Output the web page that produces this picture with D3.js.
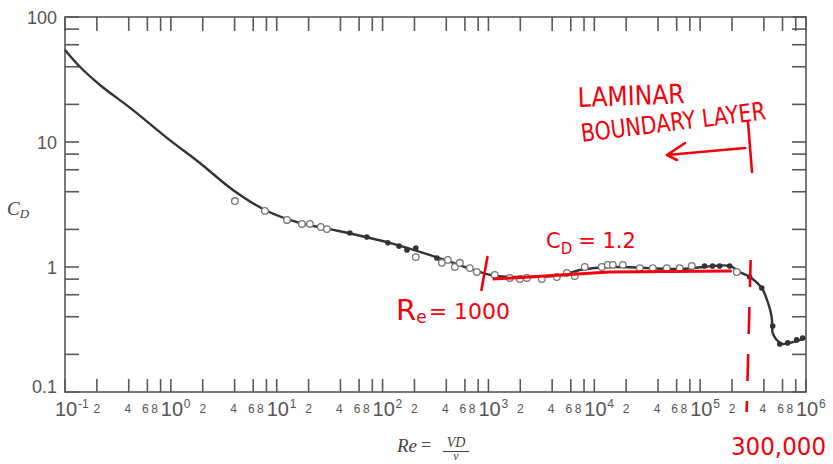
<!DOCTYPE html>
<html>
<head>
<meta charset="utf-8">
<script src="https://cdn.jsdelivr.net/npm/d3@7"></script>
<style>
  html, body { margin: 0; padding: 0; background: #fff; }
  svg { display: block; }
</style>
</head>
<body>
<svg id="chart" width="833" height="464"></svg>
<script>
// ---------------- DATA ----------------
// Smooth drag curve (Re, C_D)
const curveRe = [0.1, 0.139, 0.214, 0.439, 0.918, 1.88, 3.86, 7.74, 16.6, 31.8, 117, 387, 829, 1200, 2460, 5040, 7300, 14960, 64100, 190000, 236000, 294000, 382000, 435000, 474000, 485000, 529000, 589000, 701000, 931000];
const curveCd = [54.5, 39.8, 28.6, 18.0, 10.8, 6.79, 4.13, 2.86, 2.25, 2.01, 1.56, 1.14, 0.912, 0.847, 0.832, 0.863, 0.946, 1.0, 0.964, 1.02, 0.912, 0.832, 0.679, 0.525, 0.398, 0.296, 0.261, 0.242, 0.247, 0.265];

// Open-circle measurements
const openRe = [4.03, 7.74, 12.5, 17.3, 20.6, 26.1, 29.8, 206, 363, 414, 482, 537, 667, 776, 1148, 1592, 1981, 2306, 3194, 4426, 5500, 6540, 8130, 11770, 13400, 14960, 18600, 26900, 35700, 48400, 64100, 83300, 222000];
const openCd = [3.37, 2.81, 2.38, 2.21, 2.21, 2.09, 2.01, 1.20, 1.08, 1.14, 1.0, 1.08, 0.98, 0.912, 0.863, 0.817, 0.802, 0.817, 0.802, 0.832, 0.895, 0.847, 1.0, 1.0, 1.04, 1.04, 1.04, 0.98, 0.98, 0.98, 0.98, 1.02, 0.912];

// Filled-dot measurements
const filledRe = [49.1, 71.1, 112, 143, 170, 206, 326, 110000, 131000, 153000, 190000, 294000, 382000, 485000, 565000, 672000, 817000, 931000];
const filledCd = [1.87, 1.74, 1.56, 1.47, 1.37, 1.42, 1.18, 1.02, 1.02, 1.02, 1.02, 0.832, 0.679, 0.337, 0.242, 0.247, 0.261, 0.270];

// Red hand-drawn annotation line (C_D ~ 1.2 region)
const redLineRe = [1100, 14000, 199000];
const redLineCd = [0.80, 0.912, 0.929];
const reMarker = 1000;       // "Re = 1000" slash
const reTransition = 300000; // dashed line "300,000"

// Axis ticks
const xDecadeExps = [-1, 0, 1, 2, 3, 4, 5, 6];
const minorMultipliers = [2, 4, 6, 8];
const yDecades = [0.1, 1, 10, 100];
const yTickLabels = ["0.1", "1", "10", "100"];

// ---------------- LAYOUT ----------------
const svg = d3.select("#chart");
const L = 65, R = 806, T = 17, B = 392;
const x = d3.scaleLog().domain([0.1, 1e6]).range([L, R]);
const y = d3.scaleLog().domain([0.1, 100]).range([B, T]);

const axisColor = "#585858";
const textColor = "#555";
const red = "#f2000c";

const xTicks = [];
xDecadeExps.forEach(e => {
  xTicks.push({ v: Math.pow(10, e), major: true, e });
  if (e < 6) minorMultipliers.forEach(m => xTicks.push({ v: m * Math.pow(10, e), major: false, m }));
});
const yTicks = [];
yDecades.forEach((d, i) => {
  yTicks.push(d);
  if (i < yDecades.length - 1) minorMultipliers.forEach(m => yTicks.push(m * d));
});

const g = svg.append("g");

g.append("rect").attr("x", L).attr("y", T).attr("width", R - L).attr("height", B - T)
  .attr("fill", "none").attr("stroke", axisColor).attr("stroke-width", 1.6);

const tl = 14;
g.selectAll(".xtb").data(xTicks).join("line")
  .attr("x1", d => x(d.v)).attr("x2", d => x(d.v)).attr("y1", B).attr("y2", B - 13)
  .attr("stroke", axisColor).attr("stroke-width", 1.6);
g.selectAll(".xtt").data(xTicks).join("line")
  .attr("x1", d => x(d.v)).attr("x2", d => x(d.v)).attr("y1", T).attr("y2", T + tl)
  .attr("stroke", axisColor).attr("stroke-width", 1.6);
g.selectAll(".ytl").data(yTicks).join("line")
  .attr("x1", L).attr("x2", L + tl).attr("y1", d => y(d)).attr("y2", d => y(d))
  .attr("stroke", axisColor).attr("stroke-width", 1.6);
g.selectAll(".ytr").data(yTicks).join("line")
  .attr("x1", R).attr("x2", R - tl).attr("y1", d => y(d)).attr("y2", d => y(d))
  .attr("stroke", axisColor).attr("stroke-width", 1.6);

// x tick labels
const labelFont = "'Liberation Sans', Arial, sans-serif";
const minorShift = { 2: 0, 4: -1, 6: -2, 8: -6 };
xTicks.forEach(t => {
  const px = x(t.v);
  if (t.major) {
    g.append("text").attr("x", px - 10).attr("y", 416).attr("text-anchor", "start")
      .attr("font-family", labelFont).attr("font-size", 20).attr("fill", textColor).text("10");
    g.append("text").attr("x", px + 13).attr("y", 408).attr("text-anchor", "start")
      .attr("font-family", labelFont).attr("font-size", 12).attr("fill", textColor)
      .text(t.e < 0 ? "-" + Math.abs(t.e) : String(t.e));
  } else {
    g.append("text").attr("x", px + minorShift[t.m]).attr("y", 413).attr("text-anchor", "middle")
      .attr("font-family", labelFont).attr("font-size", 12).attr("fill", textColor).text(String(t.m));
  }
});

// y tick labels
yDecades.forEach((d, i) => {
  g.append("text").attr("x", 57).attr("y", y(d) + (i === 0 ? 1 : 6.5))
    .attr("text-anchor", "end").attr("font-family", labelFont).attr("font-size", 18)
    .attr("fill", textColor).text(yTickLabels[i]);
});

// axis titles
const serif = "'Liberation Serif', 'DejaVu Serif', serif";
const cd = g.append("text").attr("x", 7).attr("y", 215).attr("font-family", serif)
  .attr("font-style", "italic").attr("font-size", 19).attr("fill", "#444");
cd.append("tspan").text("C");
cd.append("tspan").attr("font-size", 13).attr("dy", 3).text("D");

g.append("text").attr("x", 397).attr("y", 452).attr("font-family", serif)
  .attr("font-style", "italic").attr("font-size", 19).attr("fill", "#444").text("Re");
g.append("text").attr("x", 421).attr("y", 451).attr("font-family", serif)
  .attr("font-size", 18).attr("fill", "#444").text("=");
g.append("text").attr("x", 456).attr("y", 447).attr("text-anchor", "middle").attr("font-family", serif)
  .attr("font-style", "italic").attr("font-size", 14).attr("fill", "#444").text("VD");
g.append("line").attr("x1", 443).attr("x2", 469).attr("y1", 451.5).attr("y2", 451.5)
  .attr("stroke", "#444").attr("stroke-width", 1.1);
g.append("text").attr("x", 456).attr("y", 460).attr("text-anchor", "middle").attr("font-family", serif)
  .attr("font-style", "italic").attr("font-size", 12).attr("fill", "#444").text("ν");

// ---------------- MARKS ----------------
const curveData = curveRe.map((r, i) => [r, curveCd[i]]);
const line = d3.line().x(d => x(d[0])).y(d => y(d[1])).curve(d3.curveCatmullRom.alpha(0.5));
g.append("path").datum(curveData).attr("d", line)
  .attr("fill", "none").attr("stroke", "#333").attr("stroke-width", 2.4);

g.selectAll(".open").data(openRe.map((r, i) => [r, openCd[i]])).join("circle")
  .attr("cx", d => x(d[0])).attr("cy", d => y(d[1])).attr("r", 3.3)
  .attr("fill", "#fff").attr("stroke", "#777").attr("stroke-width", 1.3);

g.selectAll(".filled").data(filledRe.map((r, i) => [r, filledCd[i]])).join("circle")
  .attr("cx", d => x(d[0])).attr("cy", d => y(d[1])).attr("r", 2.8)
  .attr("fill", "#333");

// ---------------- RED ANNOTATIONS ----------------
const hand = "'DejaVu Sans', 'Liberation Sans', sans-serif";
const redLine = d3.line().x(d => x(d[0])).y(d => y(d[1]));
g.append("path").datum(redLineRe.map((r, i) => [r, redLineCd[i]])).attr("d", redLine)
  .attr("fill", "none").attr("stroke", red).attr("stroke-width", 3);

const xm = x(reMarker);
g.append("line").attr("x1", xm - 1).attr("y1", 257).attr("x2", xm - 7).attr("y2", 290)
  .attr("stroke", red).attr("stroke-width", 2.6).attr("stroke-linecap", "round");

const xt = x(reTransition);
g.append("line").attr("x1", xt).attr("y1", 260).attr("x2", xt - 4).attr("y2", 412)
  .attr("stroke", red).attr("stroke-width", 2.6).attr("stroke-dasharray", "27,20");

g.append("line").attr("x1", 748).attr("y1", 122).attr("x2", 752).attr("y2", 172)
  .attr("stroke", red).attr("stroke-width", 2.6).attr("stroke-linecap", "round");
g.append("path").attr("d", "M745,148 L667,155 M667,155 L685,143 M667,155 L677,160")
  .attr("fill", "none").attr("stroke", red).attr("stroke-width", 2.6)
  .attr("stroke-linecap", "round").attr("stroke-linejoin", "round");

function redText(str, px, py, size, len, rot) {
  const t = g.append("text").attr("x", px).attr("y", py).attr("font-family", hand)
    .attr("font-size", size).attr("fill", red).text(str);
  if (len) t.attr("textLength", len).attr("lengthAdjust", "spacingAndGlyphs");
  if (rot) t.attr("transform", `rotate(${rot},${px},${py})`);
  return t;
}
redText("LAMINAR", 578, 107, 27, 107, -2);
redText("BOUNDARY LAYER", 582, 142, 25, 186, -7);

const c1 = g.append("text").attr("x", 546).attr("y", 248).attr("font-family", hand)
  .attr("font-size", 21).attr("fill", red);
c1.append("tspan").text("C");
c1.append("tspan").attr("font-size", 15).attr("dy", 6).text("D");
c1.append("tspan").attr("dy", -6).attr("dx", 6).text("= 1.2");

const c2 = g.append("text").attr("x", 396).attr("y", 320).attr("font-family", hand)
  .attr("font-size", 29).attr("fill", red);
c2.append("tspan").text("R");
c2.append("tspan").attr("font-size", 17).attr("dy", 3).text("e");
c2.append("tspan").attr("font-size", 22).attr("dy", -4).attr("dx", 2).text("= 1000");

redText("300,000", 731, 455, 25, 95, 0);
</script>
</body>
</html>
